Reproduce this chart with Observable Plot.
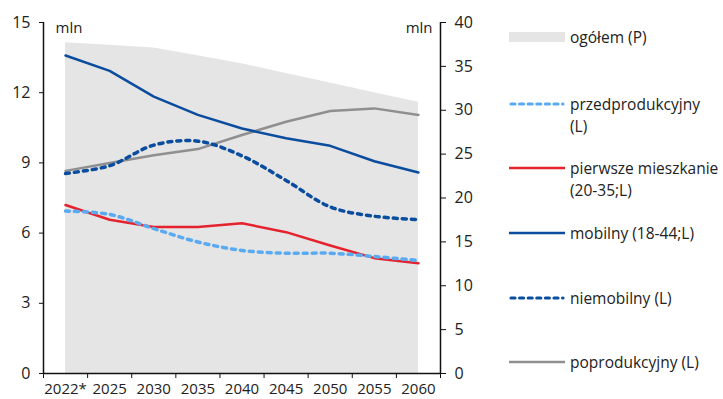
<!DOCTYPE html>
<html>
<head>
<meta charset="utf-8">
<script src="https://cdn.jsdelivr.net/npm/d3@7"></script>
<script src="https://cdn.jsdelivr.net/npm/@observablehq/plot@0.6"></script>
<style>
  body { margin: 0; background: #fff; font-family: "Open Sans", sans-serif; }
  #wrap { position: relative; width: 723px; height: 399px; }
  #legend { position: absolute; left: 0; top: 0; width: 723px; height: 399px; pointer-events: none; }
  .item { position: absolute; left: 509px; display: flex; align-items: flex-start; font-size: 15.5px; color: #222; line-height: 22px; }
  .item svg { margin-top: 0; flex: none; }
  .item span { margin-left: 5px; }
</style>
</head>
<body>
<div id="wrap"></div>
<script>
const years = ["2022*", "2025", "2030", "2035", "2040", "2045", "2050", "2055", "2060"];
const ogolem = [37.7, 37.4, 37.1, 36.2, 35.3, 34.2, 33.1, 32.0, 30.9];           // right axis
const przedprodukcyjny = [6.94, 6.80, 6.19, 5.62, 5.26, 5.14, 5.14, 5.00, 4.83];
const pierwszeMieszkanie = [7.20, 6.57, 6.26, 6.26, 6.42, 6.04, 5.47, 4.93, 4.71];
const mobilny = [13.59, 12.93, 11.83, 11.05, 10.47, 10.05, 9.73, 9.07, 8.59];
const niemobilny = [8.55, 8.88, 9.76, 9.93, 9.30, 8.25, 7.12, 6.72, 6.58];
const poprodukcyjny = [8.66, 9.00, 9.33, 9.59, 10.19, 10.76, 11.22, 11.33, 11.05];
const leftTicks = [0, 3, 6, 9, 12, 15];
const rightTicks = [0, 5, 10, 15, 20, 25, 30, 35, 40];
const LEFT_MAX = 15, RIGHT_MAX = 40;

const colors = {
  area: "#e5e5e5",
  przed: "#5aaaf2",
  red: "#e5232e",
  dark: "#0a4d9f",
  gray: "#8f8f8f"
};

const idx = years.map((_, i) => i);
const toRows = arr => arr.map((v, i) => ({i, v}));
const k = LEFT_MAX / RIGHT_MAX;
const boundaries = d3.range(-0.5, years.length, 1);

const chart = Plot.plot({
  width: 723,
  height: 399,
  marginLeft: 43,
  marginRight: 283,
  marginTop: 22,
  marginBottom: 26,
  style: {fontFamily: "'Open Sans', sans-serif", fontSize: "15px", color: "#222", background: "#fff"},
  x: {type: "linear", domain: [-0.5, years.length - 0.5], axis: null, label: null},
  y: {domain: [0, LEFT_MAX], axis: null, label: null},
  marks: [
    Plot.areaY(ogolem.map((v, i) => ({i, v: v * k})), {x: "i", y: "v", fill: colors.area}),
    Plot.line(toRows(poprodukcyjny), {x: "i", y: "v", stroke: colors.gray, strokeWidth: 2.5}),
    Plot.line(toRows(mobilny), {x: "i", y: "v", stroke: colors.dark, strokeWidth: 2.5}),
    Plot.line(toRows(pierwszeMieszkanie), {x: "i", y: "v", stroke: colors.red, strokeWidth: 2.5}),
    Plot.line(toRows(przedprodukcyjny), {x: "i", y: "v", stroke: colors.przed, strokeWidth: 3.5, strokeDasharray: "4,5", strokeLinecap: "round", curve: "catmull-rom"}),
    Plot.line(toRows(niemobilny), {x: "i", y: "v", stroke: colors.dark, strokeWidth: 3.5, strokeDasharray: "4,5", strokeLinecap: "round", curve: "catmull-rom"}),
    // axis lines
    Plot.ruleY([0], {stroke: "#111", strokeWidth: 1.5}),
    Plot.ruleX([-0.5], {stroke: "#111", strokeWidth: 1.5}),
    Plot.ruleX([years.length - 0.5], {stroke: "#111", strokeWidth: 1.5}),
    // left axis
    Plot.axisY({ticks: leftTicks, anchor: "left", label: null, tickSize: 4, tickPadding: 9, tickFormat: d => d, fontSize: 16, stroke: "#111"}),
    // right axis
    Plot.axisY({ticks: rightTicks.map(t => t * k), anchor: "right", label: null, tickSize: 5, tickPadding: 9, tickFormat: d => Math.round(d / k), fontSize: 16, stroke: "#111"}),
    // x axis ticks at band boundaries
    Plot.axisX({ticks: boundaries, label: null, tickFormat: () => "", tickSize: 5, stroke: "#111"}),
    // x labels at band centers
    Plot.axisX({ticks: idx, label: null, tickSize: 0, tickPadding: 10, tickFormat: i => years[i], fontSize: 15}),
    Plot.text(["mln"], {frameAnchor: "top-left", dx: 12, dy: 0, fontSize: 15, fill: "#222"}),
    Plot.text(["mln"], {frameAnchor: "top-right", dx: -8, dy: 0, fontSize: 15, fill: "#222"})
  ]
});

const wrap = document.getElementById("wrap");
wrap.appendChild(chart);

const legendItems = [
  {label: ["ogółem (P)"], type: "rect", color: colors.area, y: 37},
  {label: ["przedprodukcyjny", "(L)"], type: "dash", color: colors.przed, y: 104},
  {label: ["pierwsze mieszkanie", "(20-35;L)"], type: "solid", color: colors.red, y: 168},
  {label: ["mobilny (18-44;L)"], type: "solid", color: colors.dark, y: 233},
  {label: ["niemobilny (L)"], type: "dash", color: colors.dark, y: 298},
  {label: ["poprodukcyjny (L)"], type: "solid", color: colors.gray, y: 362}
];
const legend = document.createElement("div");
legend.id = "legend";
for (const it of legendItems) {
  const d = document.createElement("div");
  d.className = "item";
  d.style.top = (it.y - 11) + "px";
  let sw;
  if (it.type === "rect") {
    sw = `<svg width="56" height="22"><rect x="0" y="6" width="56" height="10" fill="${it.color}"/></svg>`;
  } else if (it.type === "dash") {
    sw = `<svg width="56" height="22"><line x1="2" y1="11" x2="54" y2="11" stroke="${it.color}" stroke-width="3.2" stroke-dasharray="4,4.6" stroke-linecap="round"/></svg>`;
  } else {
    sw = `<svg width="56" height="22"><line x1="0" y1="11" x2="56" y2="11" stroke="${it.color}" stroke-width="2.5"/></svg>`;
  }
  d.innerHTML = sw + `<span>${it.label.join("<br>")}</span>`;
  legend.appendChild(d);
}
wrap.appendChild(legend);
</script>
</body>
</html>
